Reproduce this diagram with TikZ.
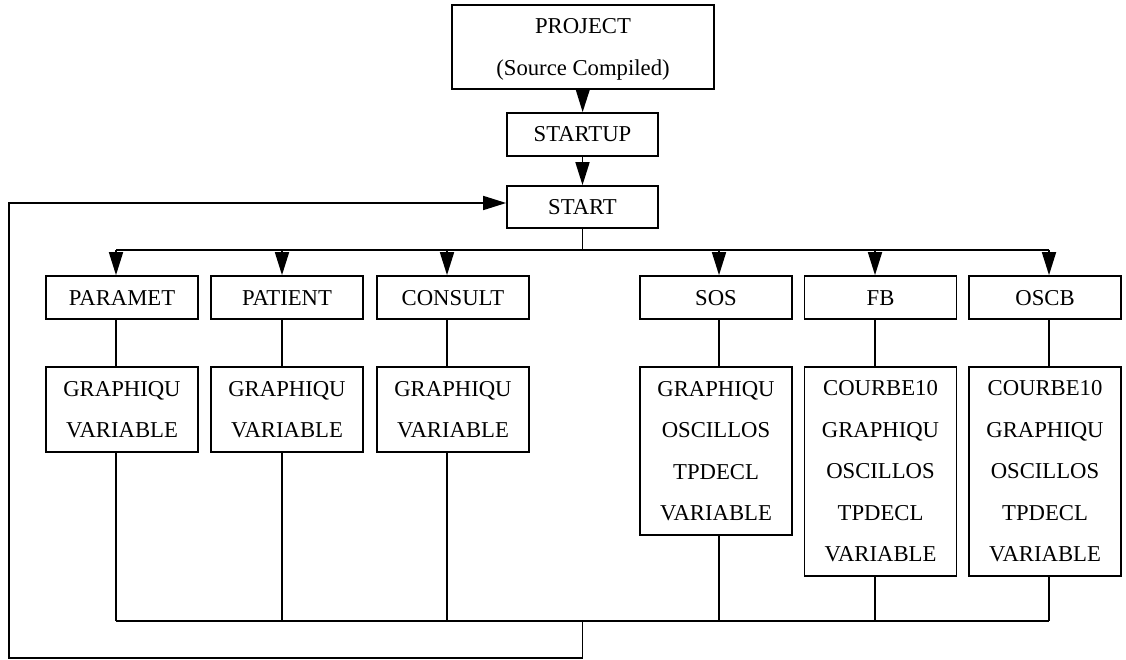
\documentclass[tikz,border=0pt]{standalone}
\usepackage{fontspec}
\setmainfont{Liberation Serif}
\usetikzlibrary{arrows.meta,calc}
\newcommand\cellstrut{\rule[-13.25pt]{0pt}{41.5pt}}
\newcommand\projstrut{\rule[-13.5pt]{0pt}{42pt}}
\begin{document}
\begin{tikzpicture}[x=1pt,y=-1pt,
  every node/.style={font=\fontsize{22.7}{41.5}\selectfont},
  box/.style={draw, line width=1.7pt, inner sep=0pt, minimum width=152pt,
    minimum height=43pt, text height=15pt, text depth=0pt},
  stack/.style={draw, line width=1.7pt, inner sep=0pt, minimum width=152pt,
    align=center, anchor=north},
  link/.style={line width=1.7pt},
  arr/.style={link, -{Triangle[length=23pt,width=14pt]}}
]
\useasboundingbox (0,0) rectangle (1126,660);

% top chain
\node[draw, line width=1.7pt, inner sep=0pt, minimum width=262pt, minimum height=84pt,
  align=center, font=\fontsize{22.7}{42}\selectfont] (project) at (583,47)
  {\projstrut PROJECT\\\projstrut (Source Compiled)};
\node[box, minimum width=151pt] (startup) at (582.5,134.5) {STARTUP};
\node[box, minimum width=151pt, minimum height=42pt] (start) at (582.5,207) {START};

% upper row
\node[box] (u1) at (122,297.5) {PARAMET};
\node[box] (u2) at (287,297.5) {PATIENT};
\node[box] (u3) at (453,297.5) {CONSULT};
\node[box] (u4) at (716,297.5) {SOS};
\node[box] (u5) at (880.5,297.5) {FB};
\node[box] (u6) at (1045,297.5) {OSCB};

% lower row
\node[stack, minimum height=85pt] (l1) at (122,366) {\cellstrut GRAPHIQU\\\cellstrut VARIABLE};
\node[stack, minimum height=85pt] (l2) at (287,366) {\cellstrut GRAPHIQU\\\cellstrut VARIABLE};
\node[stack, minimum height=85pt] (l3) at (453,366) {\cellstrut GRAPHIQU\\\cellstrut VARIABLE};
\node[stack, minimum height=168pt] (l4) at (716,366)
  {\cellstrut GRAPHIQU\\\cellstrut OSCILLOS\\\cellstrut TPDECL\\\cellstrut VARIABLE};
\node[stack, minimum height=209pt] (l5) at (880.5,366)
  {\cellstrut COURBE10\\\cellstrut GRAPHIQU\\\cellstrut OSCILLOS\\\cellstrut TPDECL\\\cellstrut VARIABLE};
\node[stack, minimum height=209pt] (l6) at (1045,366)
  {\cellstrut COURBE10\\\cellstrut GRAPHIQU\\\cellstrut OSCILLOS\\\cellstrut TPDECL\\\cellstrut VARIABLE};

% bus coordinates
\coordinate (t1) at (116,250);
\coordinate (t2) at (282,250);
\coordinate (t3) at (447,250);
\coordinate (t4) at (719,250);
\coordinate (t5) at (875,250);
\coordinate (t6) at (1049,250);
\coordinate (bb) at (582.5,621);
\coordinate (lp) at (9,658);

% connectors
\draw[arr] (project) -- (startup);
\draw[arr] (startup) -- (start);
\draw[link] (start) -- (start.south |- t1);
\draw[link] (t1) -- (t6);
\foreach \i in {1,...,6}{
  \draw[arr] (t\i) -- (t\i |- u\i.north);
  \draw[link] (u\i.south -| t\i) -- (l\i.north -| t\i);
  \draw[link] (l\i.south -| t\i) -- (t\i |- bb);
}
\draw[link] (t1 |- bb) -- (t6 |- bb);
\draw[arr] (bb) -- (bb |- lp) -- (lp) |- ([yshift=4pt]start.west);
\end{tikzpicture}
\end{document}
